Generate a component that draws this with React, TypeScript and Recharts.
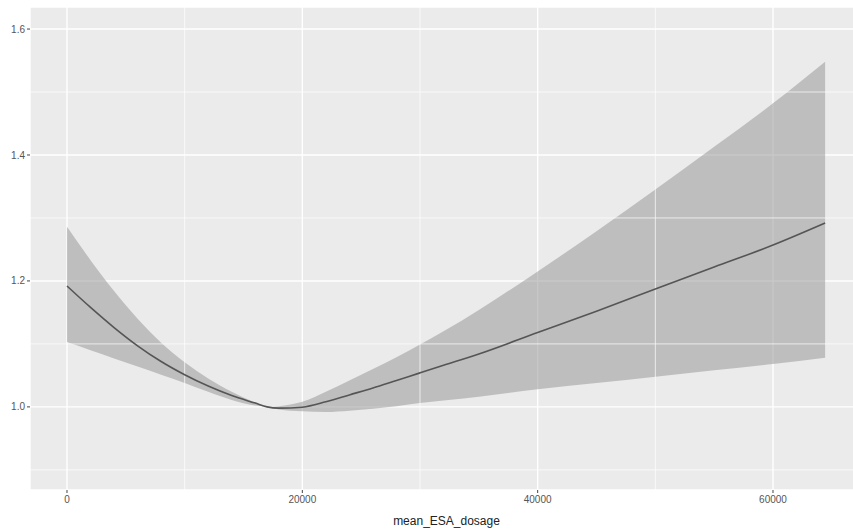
import React from 'react';
import {
  ComposedChart,
  Area,
  Line,
  XAxis,
  YAxis,
  CartesianGrid,
  ReferenceLine,
} from 'recharts';

const dosage = [0, 2000, 4000, 6000, 8000, 10000, 12000, 14000, 16000, 17000, 18000, 20000, 22000, 24000, 26000, 28000, 30000, 32000, 35000, 40000, 45000, 50000, 55000, 60000, 64430];
const fitValues = [1.192, 1.158, 1.126, 1.097, 1.072, 1.051, 1.033, 1.018, 1.006, 1.0, 0.998, 0.9995, 1.008, 1.019, 1.030, 1.042, 1.054, 1.066, 1.084, 1.118, 1.152, 1.187, 1.222, 1.257, 1.292];
const upperValues = [1.286, 1.233, 1.184, 1.140, 1.102, 1.071, 1.045, 1.024, 1.007, 1.0, 1.001, 1.008, 1.024, 1.042, 1.060, 1.079, 1.099, 1.120, 1.154, 1.215, 1.279, 1.345, 1.413, 1.482, 1.548];
const lowerValues = [1.103, 1.090, 1.077, 1.064, 1.051, 1.038, 1.024, 1.011, 1.002, 1.0, 0.996, 0.993, 0.992, 0.994, 0.997, 1.001, 1.006, 1.010, 1.016, 1.028, 1.038, 1.048, 1.058, 1.068, 1.078];

const xTicks = [0, 20000, 40000, 60000];
const xMinor = [10000, 30000, 50000];
const yTicks = [1.0, 1.2, 1.4, 1.6];
const yMinor = [0.9, 1.1, 1.3, 1.5];

const data = dosage.map((x, i) => ({
  x,
  fit: fitValues[i],
  band: [lowerValues[i], upperValues[i]],
}));

const font = '"Liberation Sans", Arial, sans-serif';

export default function App() {
  return (
    <div style={{ position: 'absolute', left: 0, top: 0, width: 853, height: 530, overflow: 'hidden', background: '#fff' }}>
      <ComposedChart
        width={880}
        height={530}
        data={data}
        margin={{ top: 7, right: 17, bottom: 0, left: 0 }}
      >
        <CartesianGrid fill="#ebebeb" stroke="#ffffff" strokeWidth={1.4} horizontal vertical />
        {xMinor.map((v) => (
          <ReferenceLine key={'xm' + v} x={v} stroke="#ffffff" strokeWidth={0.7} />
        ))}
        {yMinor.map((v) => (
          <ReferenceLine key={'ym' + v} y={v} stroke="#ffffff" strokeWidth={0.7} />
        ))}
        <XAxis
          dataKey="x"
          type="number"
          domain={[-3144, 67649]}
          ticks={xTicks}
          allowDataOverflow
          height={40}
          axisLine={false}
          tickLine={{ stroke: '#444' }}
          tickSize={3}
          tickMargin={3}
          tick={{ fontSize: 10, fill: '#555', fontFamily: font }}
          label={{ value: 'mean_ESA_dosage', position: 'insideBottom', offset: 5, fontSize: 12, fill: '#222', fontFamily: font }}
        />
        <YAxis
          type="number"
          domain={[0.868, 1.635]}
          ticks={yTicks}
          allowDataOverflow
          width={30}
          axisLine={false}
          tickLine={{ stroke: '#444' }}
          tickSize={3}
          tickMargin={2}
          tickFormatter={(v: number) => v.toFixed(1)}
          tick={{ fontSize: 10, fill: '#555', fontFamily: font }}
        />
        <Area
          dataKey="band"
          type="monotone"
          stroke="none"
          fill="#999999"
          fillOpacity={0.55}
          isAnimationActive={false}
        />
        <Line
          dataKey="fit"
          type="monotone"
          stroke="#555555"
          strokeWidth={1.6}
          dot={false}
          isAnimationActive={false}
        />
      </ComposedChart>
    </div>
  );
}
